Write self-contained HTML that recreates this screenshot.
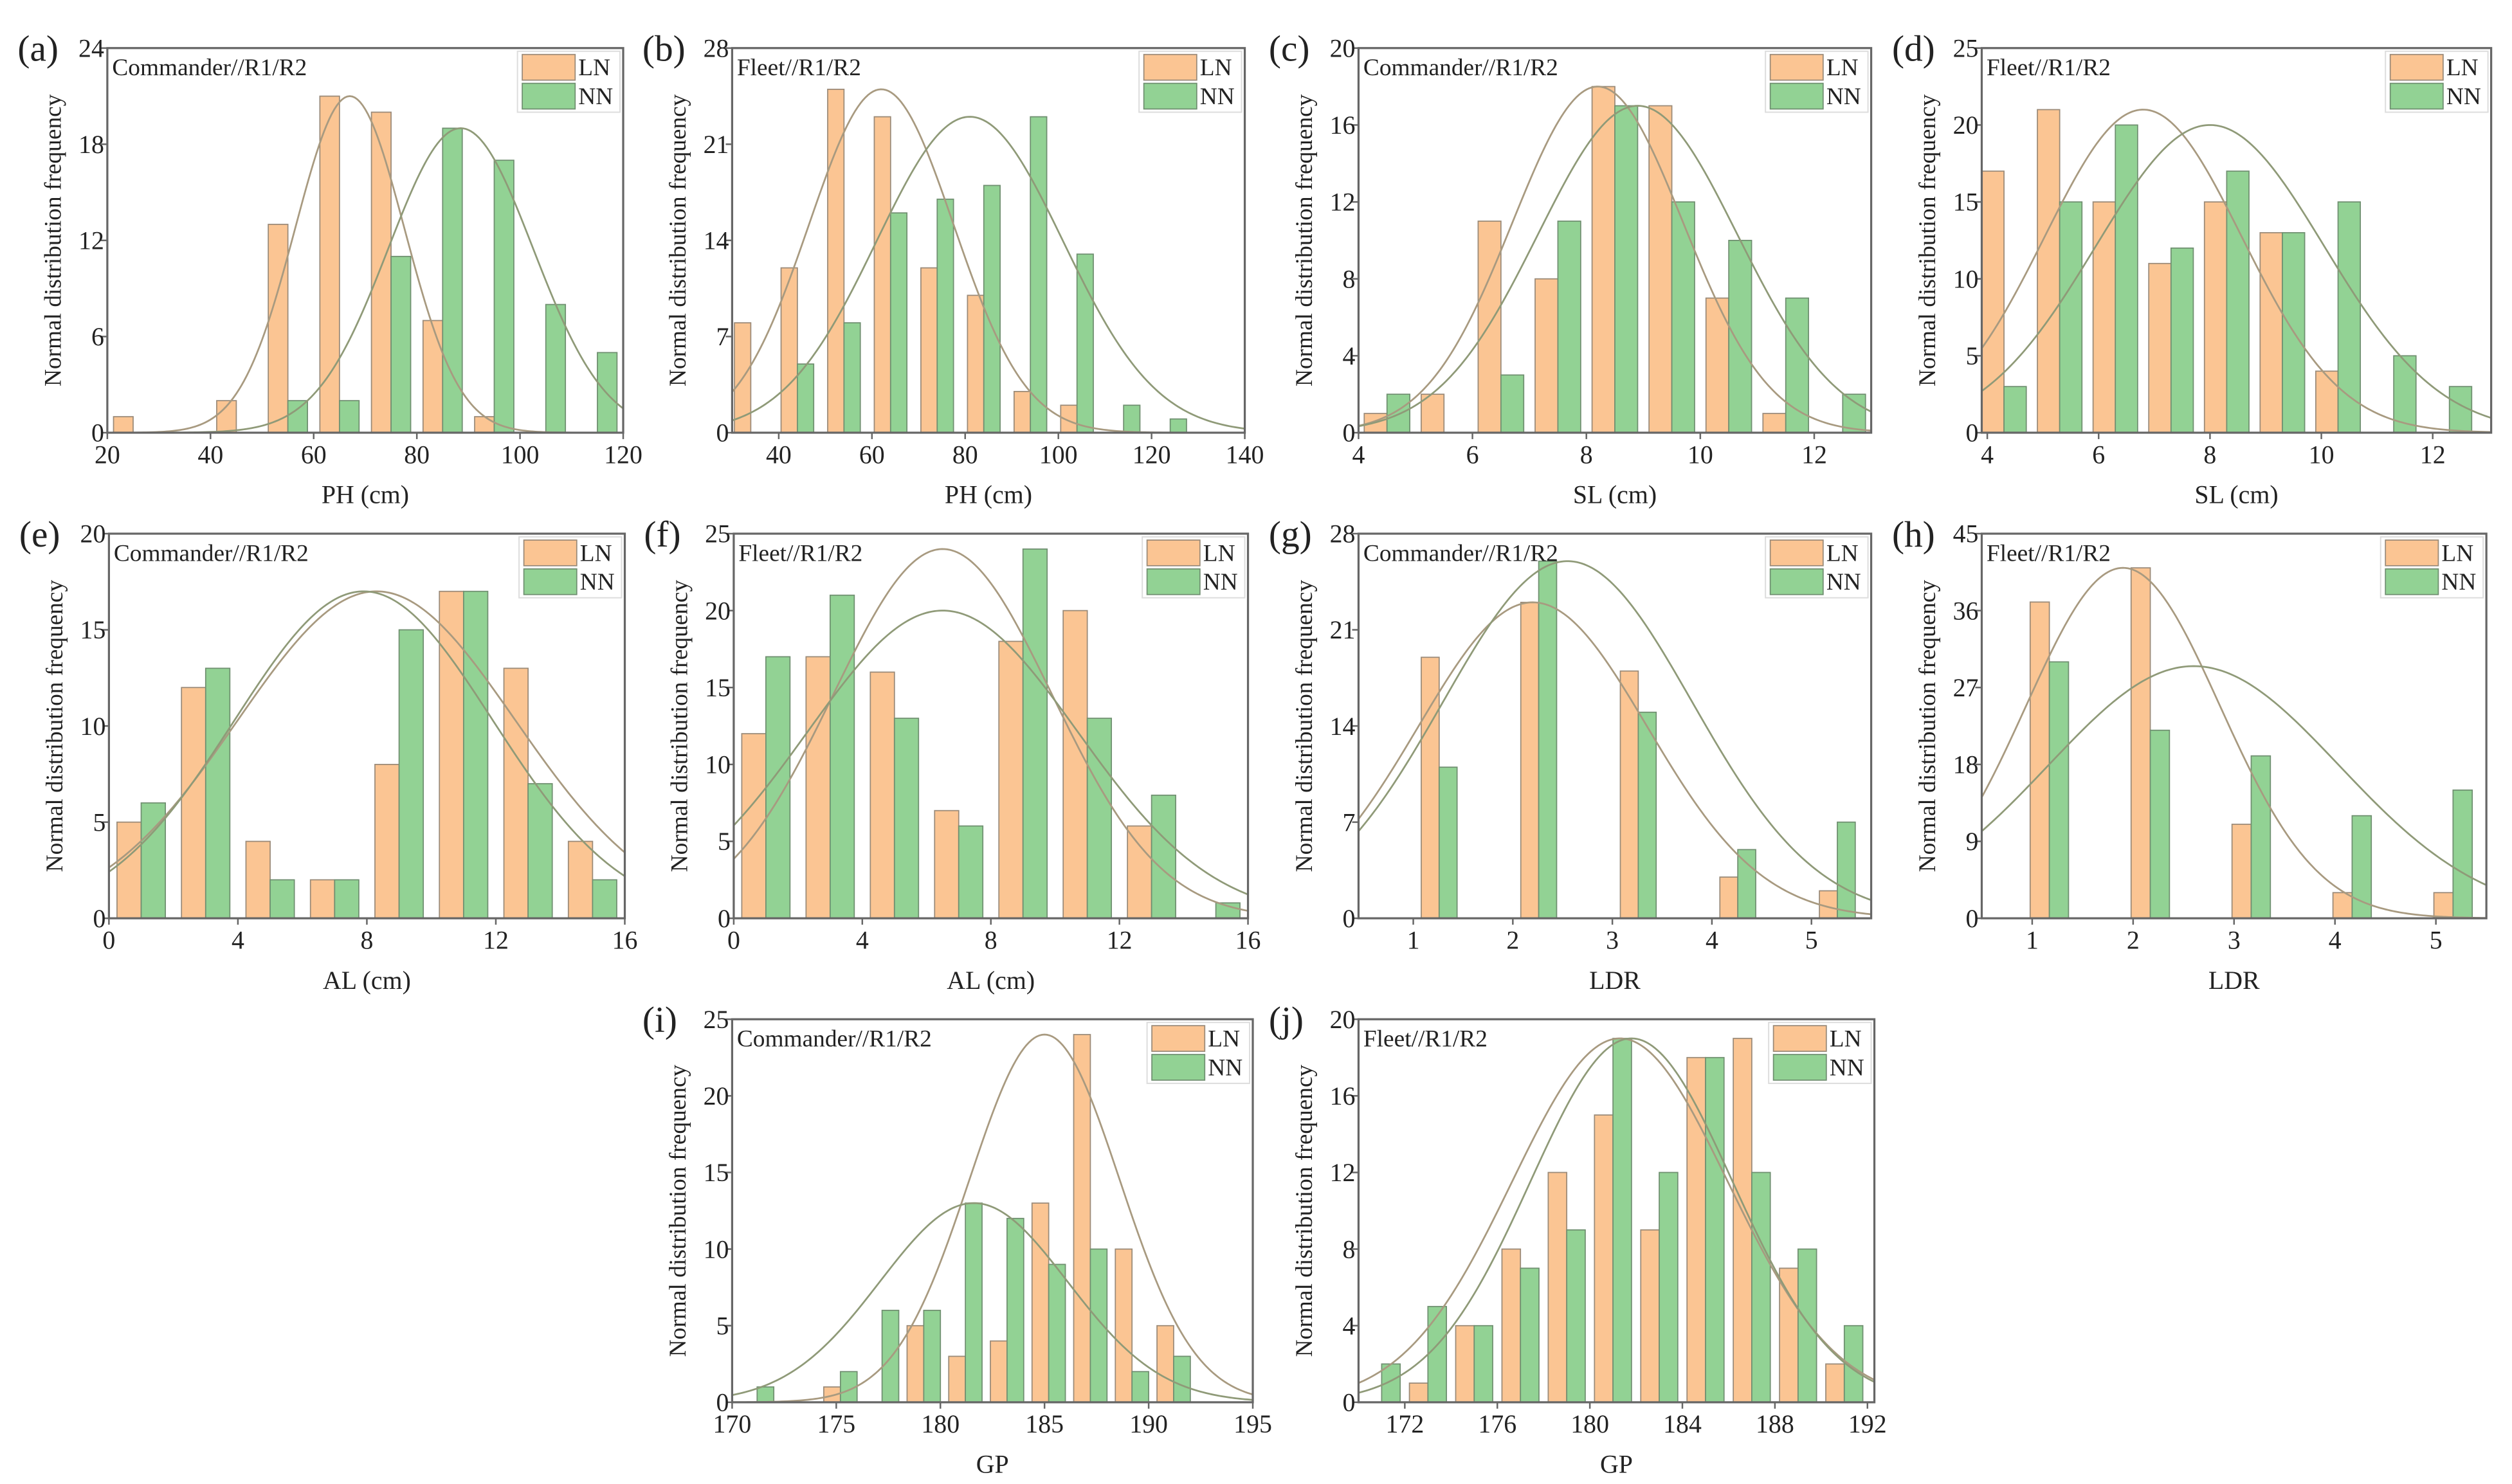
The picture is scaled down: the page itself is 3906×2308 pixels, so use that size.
<!DOCTYPE html>
<html><head><meta charset="utf-8"><style>
html,body{margin:0;padding:0;background:#fff;}
svg{display:block;}
</style></head><body>
<svg id="fig" width="3906" height="2308" viewBox="0 0 1568 926" preserveAspectRatio="none" xmlns="http://www.w3.org/2000/svg" font-family="'Liberation Serif', serif" fill="#222"></svg>
<script>
// ---- data ----
const aBins=[25,35,45,55,65,75,85,95,105,115];
const aLN=[1,0,2,13,21,20,7,1,0,0];
const aNN=[0,0,0,2,2,11,19,17,8,5];
const aFitMu=[67,88.5], aFitSd=[10.6,14], aFitPeak=[21,19];
const aXTicks=[20,40,60,80,100,120], aYTicks=[0,6,12,18,24];

const bBins=[34,44,54,64,74,84,94,104,114,124];
const bLN=[8,12,25,23,12,10,3,2,0,0];
const bNN=[0,5,8,16,17,18,23,13,2,1];
const bFitMu=[62,81], bFitSd=[15.5,20], bFitPeak=[25,23];
const bXTicks=[40,60,80,100,120,140], bYTicks=[0,7,14,21,28];

const cBins=[4.5,5.5,6.5,7.5,8.5,9.5,10.5,11.5,12.5];
const cLN=[1,2,11,8,18,17,7,1,0];
const cNN=[2,0,3,11,17,12,10,7,2];
const cFitMu=[8.2,8.9], cFitSd=[1.5,1.75], cFitPeak=[18,17];
const cXTicks=[4,6,8,10,12], cYTicks=[0,4,8,12,16,20];

const dBins=[4.3,5.3,6.3,7.3,8.3,9.3,10.3,11.3,12.3];
const dLN=[17,21,15,11,15,13,4,0,0];
const dNN=[3,15,20,12,17,13,15,5,3];
const dFitMu=[6.8,8], dFitSd=[1.77,2.05], dFitPeak=[21,20];
const dXTicks=[4,6,8,10,12], dYTicks=[0,5,10,15,20,25];

const eBins=[1,3,5,7,9,11,13,15];
const eLN=[5,12,4,2,8,17,13,4];
const eNN=[6,13,2,2,15,17,7,2];
const eFitMu=[8.3,7.9], eFitSd=[4.3,4.0], eFitPeak=[17,17];
const eXTicks=[0,4,8,12,16], eYTicks=[0,5,10,15,20];

const fBins=[1,3,5,7,9,11,13,15];
const fLN=[12,17,16,7,18,20,6,0];
const fNN=[17,21,13,6,24,13,8,1];
const fFitMu=[6.5,6.5], fFitSd=[3.4,4.2], fFitPeak=[24,20];
const fXTicks=[0,4,8,12,16], fYTicks=[0,5,10,15,20,25];

const gBins=[1.26,2.26,3.26,4.26,5.26];
const gLN=[19,23,18,3,2];
const gNN=[11,26,15,5,7];
const gFitMu=[2.2,2.55], gFitSd=[1.15,1.25], gFitPeak=[23,26];
const gXTicks=[1,2,3,4,5], gYTicks=[0,7,14,21,28];

const hBins=[1.17,2.17,3.17,4.17,5.17];
const hLN=[37,41,11,3,3];
const hNN=[30,22,19,12,15];
const hFitMu=[1.9,2.6], hFitSd=[0.96,1.44], hFitPeak=[41,29.5];
const hXTicks=[1,2,3,4,5], hYTicks=[0,9,18,27,36,45];

const iBins=[171.2,173.2,175.2,177.2,179.2,181.2,183.2,185.2,187.2,189.2,191.2];
const iLN=[0,0,1,0,5,3,4,13,24,10,5];
const iNN=[1,0,2,6,6,13,12,9,10,2,3];
const iFitMu=[185,181.6], iFitSd=[3.6,4.5], iFitPeak=[24,13];
const iXTicks=[170,175,180,185,190,195], iYTicks=[0,5,10,15,20,25];

const jBins=[171,173,175,177,179,181,183,185,187,189,191];
const jLN=[0,1,4,8,12,15,9,18,19,7,2];
const jNN=[2,5,4,7,9,19,12,18,12,8,4];
const jFitMu=[181.3,181.8], jFitSd=[4.66,4.37], jFitPeak=[19,19];
const jXTicks=[172,176,180,184,188,192], jYTicks=[0,4,8,12,16,20];

// ---- layout ----
const panels=[
 {id:'a',title:'Commander//R1/R2',xl:'PH (cm)',x0:67,x1:389,y0:30,y1:270,xmin:20,xmax:120,ymax:24,bw:3.8,bins:aBins,ln:aLN,nn:aNN,mu:aFitMu,sd:aFitSd,pk:aFitPeak,xt:aXTicks,yt:aYTicks},
 {id:'b',title:'Fleet//R1/R2',xl:'PH (cm)',x0:457,x1:777,y0:30,y1:270,xmin:30,xmax:140,ymax:28,bw:3.5,bins:bBins,ln:bLN,nn:bNN,mu:bFitMu,sd:bFitSd,pk:bFitPeak,xt:bXTicks,yt:bYTicks},
 {id:'c',title:'Commander//R1/R2',xl:'SL (cm)',x0:848,x1:1168,y0:30,y1:270,xmin:4,xmax:13,ymax:20,bw:0.4,bins:cBins,ln:cLN,nn:cNN,mu:cFitMu,sd:cFitSd,pk:cFitPeak,xt:cXTicks,yt:cYTicks},
 {id:'d',title:'Fleet//R1/R2',xl:'SL (cm)',x0:1237,x1:1555,y0:30,y1:270,xmin:3.9,xmax:13.05,ymax:25,bw:0.4,bins:dBins,ln:dLN,nn:dNN,mu:dFitMu,sd:dFitSd,pk:dFitPeak,xt:dXTicks,yt:dYTicks},
 {id:'e',title:'Commander//R1/R2',xl:'AL (cm)',x0:68,x1:390,y0:333,y1:573,xmin:0,xmax:16,ymax:20,bw:0.75,bins:eBins,ln:eLN,nn:eNN,mu:eFitMu,sd:eFitSd,pk:eFitPeak,xt:eXTicks,yt:eYTicks},
 {id:'f',title:'Fleet//R1/R2',xl:'AL (cm)',x0:458,x1:779,y0:333,y1:573,xmin:0,xmax:16,ymax:25,bw:0.75,bins:fBins,ln:fLN,nn:fNN,mu:fFitMu,sd:fFitSd,pk:fFitPeak,xt:fXTicks,yt:fYTicks},
 {id:'g',title:'Commander//R1/R2',xl:'LDR',x0:848,x1:1168,y0:333,y1:573,xmin:0.45,xmax:5.6,ymax:28,bw:0.18,bins:gBins,ln:gLN,nn:gNN,mu:gFitMu,sd:gFitSd,pk:gFitPeak,xt:gXTicks,yt:gYTicks},
 {id:'h',title:'Fleet//R1/R2',xl:'LDR',x0:1237,x1:1552,y0:333,y1:573,xmin:0.5,xmax:5.5,ymax:45,bw:0.19,bins:hBins,ln:hLN,nn:hNN,mu:hFitMu,sd:hFitSd,pk:hFitPeak,xt:hXTicks,yt:hYTicks},
 {id:'i',title:'Commander//R1/R2',xl:'GP',x0:457,x1:782,y0:636,y1:875,xmin:170,xmax:195,ymax:25,bw:0.8,bins:iBins,ln:iLN,nn:iNN,mu:iFitMu,sd:iFitSd,pk:iFitPeak,xt:iXTicks,yt:iYTicks},
 {id:'j',title:'Fleet//R1/R2',xl:'GP',x0:848,x1:1170,y0:636,y1:875,xmin:170,xmax:192.3,ymax:20,bw:0.8,bins:jBins,ln:jLN,nn:jNN,mu:jFitMu,sd:jFitSd,pk:jFitPeak,xt:jXTicks,yt:jYTicks}
];
const NS='http://www.w3.org/2000/svg';
const FF="'Liberation Serif', serif";
const svg=document.getElementById('fig');
function mk(tag,attrs,parent,txt){const e=document.createElementNS(NS,tag);for(const k in attrs)e.setAttribute(k,attrs[k]);if(txt!==undefined){e.setAttribute('font-family',FF);e.textContent=txt;}parent.appendChild(e);return e;}
const defs=mk('defs',{},svg);
panels.forEach(p=>{
  const sx=v=>p.x0+(v-p.xmin)/(p.xmax-p.xmin)*(p.x1-p.x0);
  const sy=v=>p.y1-v/p.ymax*(p.y1-p.y0);
  const g=mk('g',{},svg);
  
  
  const cp=mk('clipPath',{id:'clip'+p.id},defs);
  mk('rect',{x:p.x0,y:p.y0,width:p.x1-p.x0,height:p.y1-p.y0},cp);
  p.bins.forEach((c,i)=>{
    if(p.ln[i]>0){const r=mk('rect',{x:sx(c-p.bw),y:sy(p.ln[i]),width:sx(c)-sx(c-p.bw),height:sy(0)-sy(p.ln[i]),fill:'#fbc593',stroke:'#9a8a78','stroke-width':0.7},g);
      
      }
    if(p.nn[i]>0){const r=mk('rect',{x:sx(c),y:sy(p.nn[i]),width:sx(c+p.bw)-sx(c),height:sy(0)-sy(p.nn[i]),fill:'#92d294',stroke:'#6f8f70','stroke-width':0.7},g);
      
      }
  });
  for(let k=0;k<2;k++){
    let d='';
    for(let s=0;s<=200;s++){const v=p.xmin+(p.xmax-p.xmin)*s/200;const y=p.pk[k]*Math.exp(-Math.pow(v-p.mu[k],2)/(2*p.sd[k]*p.sd[k]));d+=(s?'L':'M')+sx(v).toFixed(2)+' '+sy(y).toFixed(2);}
    const path=mk('path',{d:d,fill:'none',stroke:k?'#8f9a78':'#a89a80','stroke-width':1.1,'clip-path':'url(#clip'+p.id+')'},g);
    
    
  }
  const fr=mk('rect',{x:p.x0,y:p.y0,width:p.x1-p.x0,height:p.y1-p.y0,fill:'none',stroke:'#666','stroke-width':1.3},g);
  
  
  p.yt.forEach(t=>{mk('line',{x1:p.x0-4,x2:p.x0,y1:sy(t),y2:sy(t),stroke:'#666','stroke-width':1},g);
    const tl=mk('text',{x:p.x0-2,y:sy(t)+5.5,'text-anchor':'end','font-size':16},g,String(t));
    
    });
  p.xt.forEach(t=>{mk('line',{x1:sx(t),x2:sx(t),y1:p.y1,y2:p.y1+4,stroke:'#666','stroke-width':1},g);
    const tl=mk('text',{x:sx(t),y:p.y1+19,'text-anchor':'middle','font-size':16},g,String(t));
    
    });
  const pl=mk('text',{x:p.x0-56,y:p.y0+8,'font-size':23},g,'('+p.id+')');
  
  
  const yt=mk('text',{x:0,y:0,'text-anchor':'middle','font-size':15,transform:'translate('+(p.x0-29)+','+((p.y0+p.y1)/2)+') rotate(-90)'},g,'Normal distribution frequency');
  
  
  const xt=mk('text',{x:(p.x0+p.x1)/2,y:p.y1+44,'text-anchor':'middle','font-size':16},g,p.xl);
  
  
  const ti=mk('text',{x:p.x0+3,y:p.y0+17,'font-size':15},g,p.title);
  
  
  const lx=p.x1-66, ly=p.y0+2;
  const lg=mk('g',{},g);
  
  
  mk('rect',{x:lx,y:ly,width:64,height:38,fill:'#fff',stroke:'#ddd','stroke-width':0.8},lg);
  mk('rect',{x:lx+3,y:ly+2,width:33,height:16,fill:'#fbc593',stroke:'#9a8a78','stroke-width':0.7},lg);
  mk('rect',{x:lx+3,y:ly+20,width:33,height:16,fill:'#92d294',stroke:'#6f8f70','stroke-width':0.7},lg);
  mk('text',{x:lx+38,y:ly+15,'font-size':15},lg,'LN');
  mk('text',{x:lx+38,y:ly+33,'font-size':15},lg,'NN');
});
</script>
</body></html>
